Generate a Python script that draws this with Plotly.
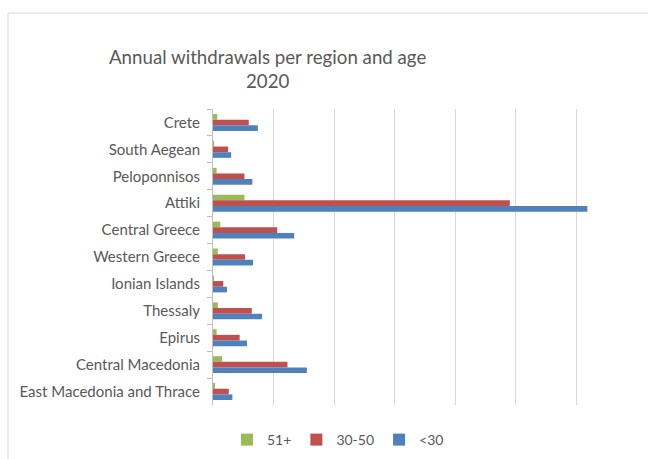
import plotly.graph_objects as go

regions = ["Crete", "South Aegean", "Peloponnisos", "Attiki", "Central Greece",
           "Western Greece", "Ionian Islands", "Thessaly", "Epirus",
           "Central Macedonia", "East Macedonia and Thrace"]
age_51_plus = [7, 1, 6, 52, 12, 8, 1, 8, 6, 15, 2]
age_30_50 = [59, 25, 52, 490, 106, 53, 17, 64, 44, 123, 26]
age_under_30 = [74, 30, 65, 618, 134, 66, 23, 81, 56, 155, 32]

series = [("51+", age_51_plus, "#9BBB59"),
          ("30-50", age_30_50, "#C0504D"),
          ("<30", age_under_30, "#4F81BD")]

W, H = 648, 459
L, R, T, B = 213, 11, 109, 54
pw, ph = W - L - R, H - T - B

def px(x):
    return (x - L) / pw

def py(y):
    return (H - B - y) / ph

fig = go.Figure()
for name, vals, col in series:
    fig.add_trace(go.Bar(y=regions, x=vals, name=name, orientation="h",
                         marker=dict(color=col, line=dict(width=0))))

font_fam = "Lato, 'Open Sans', sans-serif"
fig.update_layout(
    width=W, height=H,
    margin=dict(l=L, r=R, t=T, b=B, autoexpand=False),
    paper_bgcolor="white", plot_bgcolor="white",
    barmode="group", bargap=0.37, bargroupgap=0,
    font=dict(family=font_fam, size=14, color="#595959"),
    showlegend=True,
    legend=dict(orientation="h", x=px(338), xanchor="center",
                y=py(440), yanchor="middle", font=dict(size=14, color="#595959"),
                itemwidth=30, traceorder="normal"),
    xaxis=dict(range=[0, 700], dtick=100, showticklabels=False,
               showgrid=True, gridcolor="#D9D9D9", gridwidth=1.3,
               zeroline=False, showline=False, fixedrange=True,
               automargin=False),
    yaxis=dict(autorange="reversed", type="category", showline=True,
               linecolor="#BFBFBF", linewidth=1, ticks="outside",
               tickson="boundaries", ticklen=5, tickcolor="#BFBFBF",
               showgrid=False, tickfont=dict(size=15, color="#595959"),
               ticklabelstandoff=9, automargin=False),
    shapes=[dict(type="rect", xref="paper", yref="paper",
                 x0=px(8), x1=px(700), y0=py(500), y1=py(13),
                 line=dict(color="#D9D9D9", width=1), layer="below")],
    annotations=[dict(text="Annual withdrawals per region and age<br>2020",
                      xref="paper", yref="paper", x=px(267), y=py(44),
                      xanchor="center", yanchor="top", showarrow=False,
                      font=dict(size=18.7, color="#595959", family=font_fam))],
)

fig.write_html("out.html", config={"displayModeBar": False},
               post_script="document.body.style.margin='0';document.body.style.padding='0';")
